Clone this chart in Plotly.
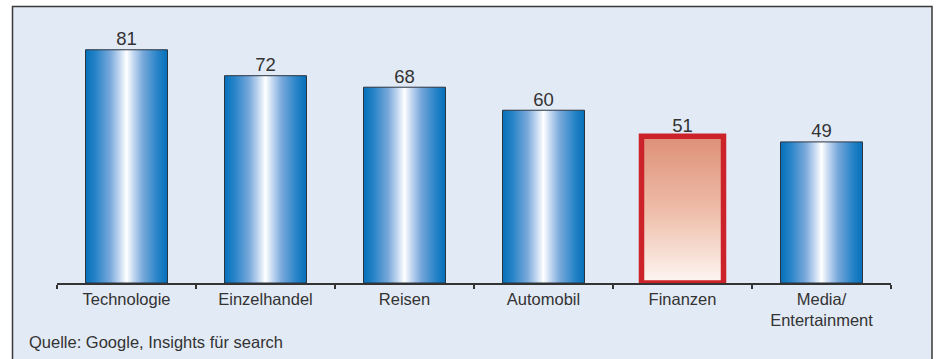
import plotly.graph_objects as go

categories = ["Technologie", "Einzelhandel", "Reisen", "Automobil", "Finanzen", "Media/<br>Entertainment"]
values = [81, 72, 68, 60, 51, 49]
highlight = "Finanzen"
source_text = "Quelle: Google, Insights für search"

BAR_W = 0.59
BG = "#E2EAF6"
TXT = "#333333"

blue_scale = [
    [0.0, "#0570BA"], [0.12, "#2683C7"], [0.3, "#78A8DB"], [0.42, "#C6DAF1"],
    [0.5, "#FFFFFF"], [0.58, "#C6DAF1"], [0.7, "#78A8DB"], [0.88, "#2683C7"], [1.0, "#0570BA"],
]
red_scale = [[0.0, "#FDF6F2"], [0.5, "#EEBCA8"], [1.0, "#DE9078"]]

fig = go.Figure()
for i, (cat, v) in enumerate(zip(categories, values)):
    x0, x1 = i - BAR_W / 2, i + BAR_W / 2
    hl = cat == highlight
    fig.add_trace(go.Scatter(
        x=[x0, x1, x1, x0, x0], y=[0, 0, v, v, 0],
        mode="lines", fill="toself",
        fillgradient=dict(type="vertical" if hl else "horizontal",
                          colorscale=red_scale if hl else blue_scale),
        line=dict(color="#CC2229" if hl else "#2B3540", width=5.5 if hl else 1),
        hoverinfo="skip", showlegend=False,
    ))

fig.add_trace(go.Scatter(
    x=list(range(len(categories))), y=values, mode="text",
    text=[str(v) for v in values], textposition="top center",
    textfont=dict(size=18.5, color=TXT, family="Liberation Sans, Arial, sans-serif"),
    showlegend=False, hoverinfo="skip", cliponaxis=False,
))

fig.update_layout(
    width=937, height=359,
    margin=dict(l=57, r=46, t=23, b=76),
    paper_bgcolor="white", plot_bgcolor="rgba(0,0,0,0)",
    font=dict(family="Liberation Sans, Arial, sans-serif", color=TXT, size=16),
    xaxis=dict(
        range=[-0.5, len(categories) - 0.5], tickmode="array",
        tickvals=list(range(len(categories))), ticktext=categories,
        ticks="", showgrid=False, zeroline=False,
        showline=True, linecolor="#333333", linewidth=1.5,
        tickfont=dict(size=16.5, color=TXT),
        minor=dict(tickmode="array", tickvals=[k - 0.5 for k in range(len(categories) + 1)],
                   ticks="outside", ticklen=4, tickcolor="#333333", tickwidth=1.5, showgrid=False),
        fixedrange=True,
    ),
    yaxis=dict(range=[0, 90.3], visible=False, fixedrange=True),
    shapes=[dict(type="rect", xref="paper", yref="paper",
                 x0=(12.5 - 57) / 834, x1=(932 - 57) / 834,
                 y0=(283 - 365) / 260, y1=(283 - 6.5) / 260,
                 fillcolor=BG, line=dict(color="#3A3A3A", width=1.5), layer="below")],
    annotations=[dict(text=source_text, xref="paper", yref="paper",
                      x=(27 - 57) / 834, y=(283 - 342) / 260, xanchor="left", yanchor="middle",
                      showarrow=False, font=dict(size=16.5, color=TXT))],
)

fig.write_html("out.html")
